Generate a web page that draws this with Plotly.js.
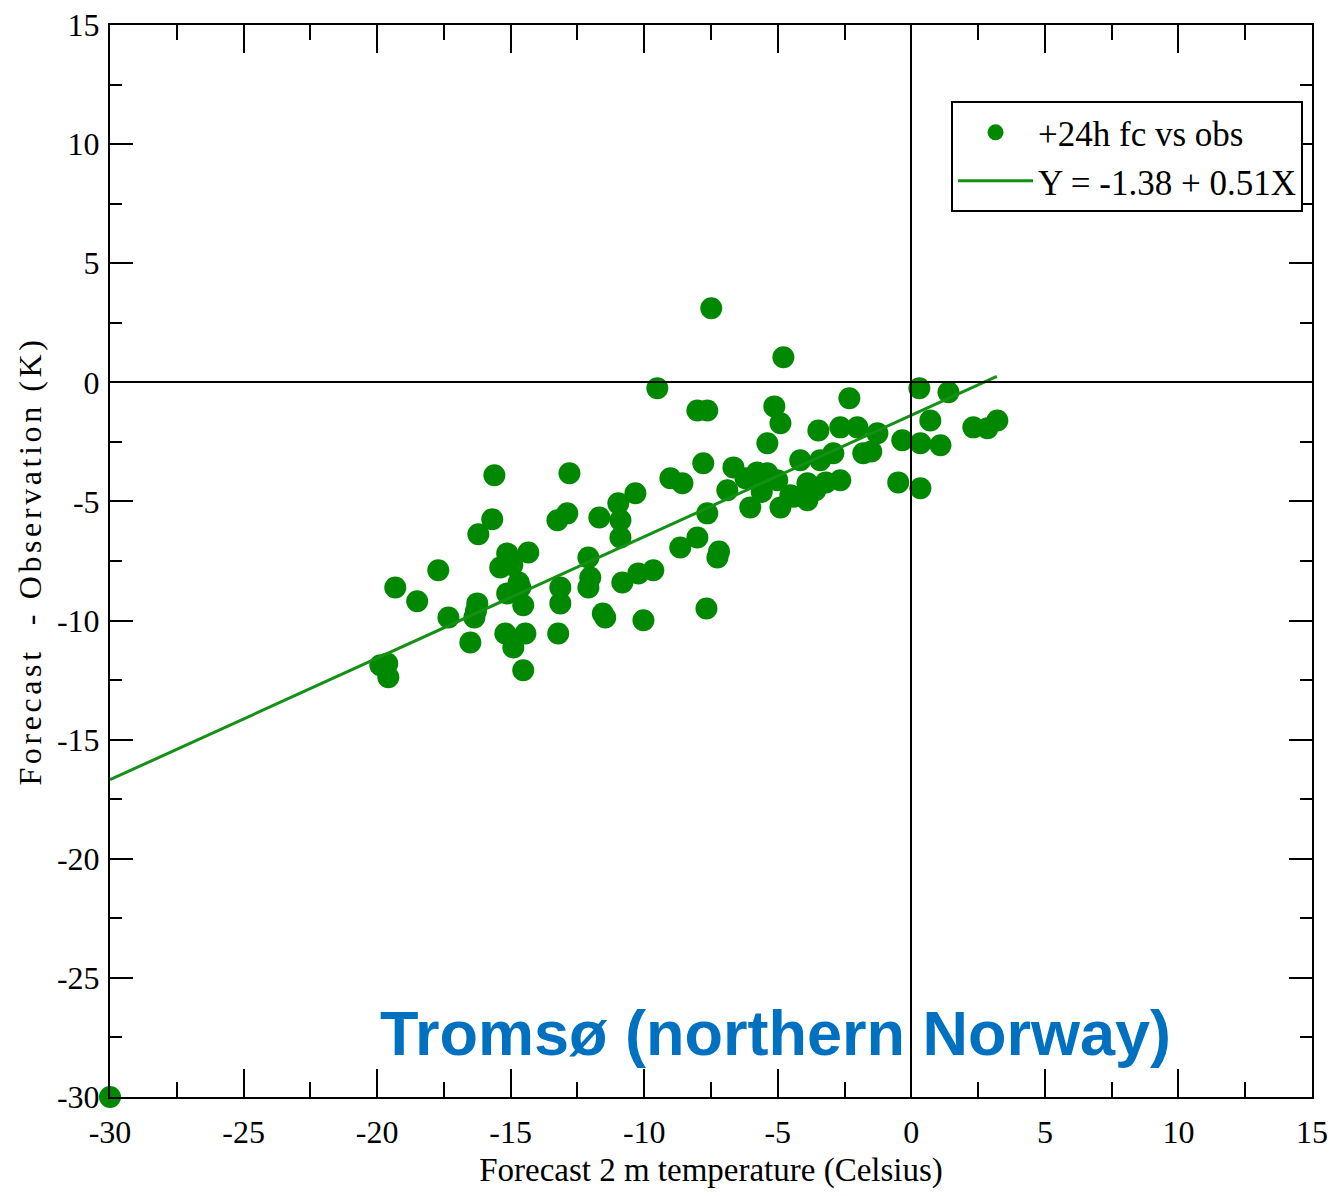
<!DOCTYPE html>
<html>
<head>
<meta charset="utf-8">
<script src="https://cdn.plot.ly/plotly-3.0.1.min.js"></script>
<style>
  html, body { margin: 0; padding: 0; background: #fff; }
  #chart { width: 1331px; height: 1196px; }
  .ytitle { letter-spacing: 3.6px; }
</style>
</head>
<body>
<div id="chart"></div>
<script>
// Forecast 2 m temperature (Celsius)
const fcTemp = [
  -7.49, -4.79, -9.51, 0.30, 1.39, -8.01, -7.64, -5.13, -4.90, -5.39,
  -2.32, -3.48, -2.66, -2.02, -1.27, -1.80, -0.34, 0.71, 0.34, 1.09,
  2.32, 2.85, 3.22, -0.49, 0.34, -7.79, -9.02, -8.57, -10.33, -10.97,
  -10.89, -10.89, -6.66, -6.89, -6.03, -5.39, -5.02, -4.90, -4.16, -3.89,
  -3.89, -3.41, -2.92, -2.66, -7.64, -8.01, -8.65, -7.26, -9.66, -10.22,
  -10.82, -11.46, -10.03, -7.67, -15.61, -12.80, -15.69, -16.21, -13.25, -12.88,
  -11.68, -17.71, -19.32, -18.50, -17.33, -16.25, -16.36, -16.51, -15.13, -14.34,
  -15.39, -14.64, -15.13, -14.53, -15.20, -14.45, -14.90, -14.53, -13.14, -13.14,
  -13.22, -12.09, -12.02, -12.09, -19.62, -19.58, -19.88, -5.77, -4.53, -6.21,
  -3.59, -14.94, -7.20, -5.60, -4.40, -3.20, -1.50, -11.55, -16.30, -14.70,
  -30.00
];
// Forecast - Observation (K)
const fcMinusObs = [
  3.11, 1.05, -0.25, -0.25, -0.42, -1.18, -1.18, -1.01, -1.72, -2.56,
  -0.67, -2.02, -1.89, -1.89, -2.14, -2.98, -2.43, -1.60, -2.56, -2.64,
  -1.89, -1.93, -1.60, -4.20, -4.45, -3.40, -4.03, -4.24, -4.66, -5.08,
  -5.79, -6.51, -3.57, -4.53, -5.25, -3.82, -4.11, -5.25, -3.27, -4.24,
  -4.95, -3.27, -2.98, -4.11, -5.50, -6.51, -6.93, -7.35, -7.89, -8.02,
  -8.40, -9.87, -9.99, -9.49, -3.90, -3.82, -5.75, -6.38, -5.79, -5.50,
  -5.67, -7.89, -8.61, -9.19, -9.87, -9.28, -9.87, -10.92, -7.18, -7.14,
  -7.77, -8.61, -8.86, -9.36, -10.54, -10.54, -11.13, -12.09, -8.61, -9.28,
  -10.54, -7.35, -8.19, -8.61, -11.80, -12.38, -11.88, -3.78, -4.74, -4.03,
  -4.53, -7.68, -7.10, -4.60, -4.80, -4.20, -2.90, -9.70, -9.60, -8.40,
  -30.00
];
// Regression line from the legend: Y = -1.38 + 0.51X
const fitIntercept = -1.38;
const fitSlope = 0.51;
const fitX = [-30, 3.2];
const fitY = fitX.map(x => fitIntercept + fitSlope * x);

const xTickVals = [-30, -25, -20, -15, -10, -5, 0, 5, 10, 15];
const xTickText = ['-30', '-25', '-20', '-15', '-10', '-5', '0', '5', '10', '15'];
const yTickVals = [-30, -25, -20, -15, -10, -5, 0, 5, 10, 15];
const yTickText = ['-30', '-25', '-20', '-15', '-10', '-5', '0', '5', '10', '15'];

const serif = 'Liberation Serif, Times New Roman, serif';

const traces = [
  {
    type: 'scatter', mode: 'markers',
    x: fcTemp, y: fcMinusObs,
    name: '+24h fc vs obs',
    marker: { color: 'rgb(0,136,0)', size: 22, line: { width: 0 } },
    cliponaxis: false
  },
  {
    type: 'scatter', mode: 'lines',
    x: fitX, y: fitY,
    name: 'Y = -1.38 + 0.51X',
    line: { color: 'rgb(20,145,20)', width: 3 }
  }
];

const axisCommon = {
  showline: true, linecolor: '#000', linewidth: 2, mirror: 'ticks',
  ticks: 'inside', tickcolor: '#000', tickwidth: 2,
  showgrid: false,
  zeroline: true, zerolinecolor: '#000', zerolinewidth: 2,
  zerolinelayer: 'above traces',
  tickmode: 'array',
  tickfont: { family: serif, size: 32, color: '#000' }
};

const layout = {
  width: 1331, height: 1196,
  margin: { l: 110, r: 19, t: 25, b: 99 },
  paper_bgcolor: '#fff', plot_bgcolor: '#fff',
  showlegend: true,
  xaxis: Object.assign({}, axisCommon, {
    range: [-30, 15],
    tickvals: xTickVals, ticktext: xTickText,
    ticklen: 28,
    ticklabelstandoff: 6,
    minor: { dtick: 2.5, tick0: 0, ticks: 'inside', ticklen: 15, tickcolor: '#000', tickwidth: 2, showgrid: false },
    title: { text: 'Forecast 2 m temperature (Celsius)', font: { family: serif, size: 33, color: '#000' }, standoff: 8 }
  }),
  yaxis: Object.assign({}, axisCommon, {
    range: [-30, 15],
    tickvals: yTickVals, ticktext: yTickText,
    ticklen: 23,
    ticklabelstandoff: 2,
    minor: { dtick: 2.5, tick0: 0, ticks: 'inside', ticklen: 12, tickcolor: '#000', tickwidth: 2, showgrid: false },
    title: { text: 'Forecast  - Observation (K)', font: { family: serif, size: 32, color: '#000' }, standoff: 6 }
  }),
  legend: {
    x: 0.6997, y: 0.929, xanchor: 'left', yanchor: 'top',
    bgcolor: '#fff', bordercolor: '#000', borderwidth: 2,
    font: { family: serif, size: 35, color: '#000' },
    itemwidth: 75,
    tracegroupgap: 0
  },
  annotations: [
    {
      x: -5.1, y: -27.3, xref: 'x', yref: 'y',
      text: '<b>Tromsø (northern Norway)</b>',
      showarrow: false,
      font: { family: 'Liberation Sans, Arial, sans-serif', size: 63, color: '#0070C0' }
    }
  ]
};

Plotly.newPlot('chart', traces, layout, { displayModeBar: false, staticPlot: true });
</script>
</body>
</html>
